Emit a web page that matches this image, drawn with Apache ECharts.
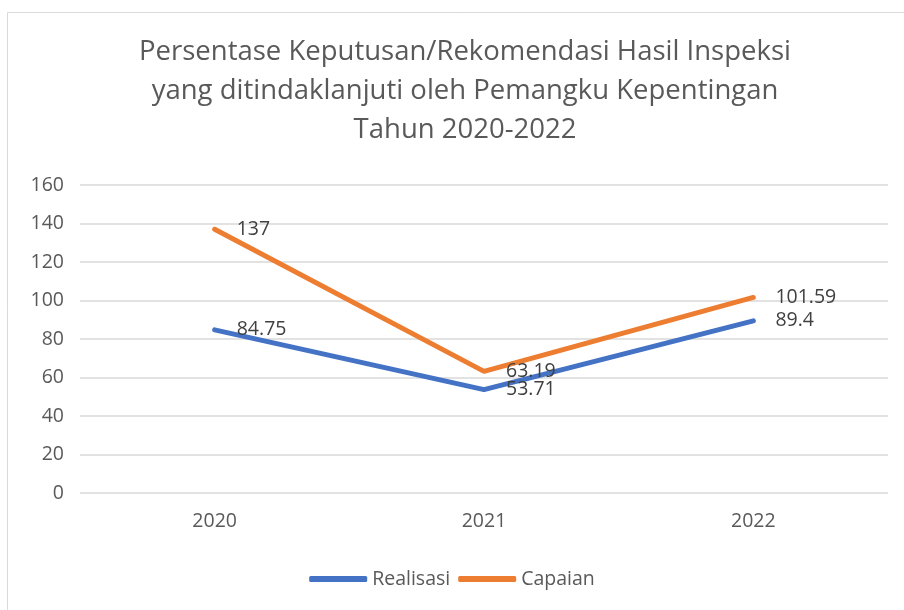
<!DOCTYPE html>
<html><head><meta charset="utf-8">
<script src="https://cdn.jsdelivr.net/npm/echarts@6/dist/echarts.min.js"></script>
<style>html,body{margin:0;padding:0;background:#fff}#c{width:904px;height:610px}</style>
</head><body><div id="c"></div>
<script>
const titleLines = ['Persentase Keputusan/Rekomendasi Hasil Inspeksi','yang ditindaklanjuti oleh Pemangku Kepentingan','Tahun 2020-2022'];
const categories = ['2020','2021','2022'];
const realisasi = [84.75, 53.71, 89.4];
const capaian = [137, 63.19, 101.59];
const yTicks = [0,20,40,60,80,100,120,140,160];
const FONT = '"Open Sans", sans-serif';
const chart = echarts.init(document.getElementById('c'));
const lbl = {show:true, position:'right', distance:22, color:'#404040', fontSize:19.5, fontFamily:FONT};
chart.setOption({
  animation:false,
  graphic:[{type:'rect', shape:{x:7.5,y:12.5,width:920,height:620}, style:{fill:'none',stroke:'#d9d9d9',lineWidth:1}}],
  title:{text:titleLines.join('\n'), left:460, textAlign:'center', top:28,
    textStyle:{fontFamily:FONT, fontSize:27.5, fontWeight:'normal', color:'#595959', lineHeight:39}},
  legend:{bottom:16, left:'center', itemWidth:58, itemHeight:6, itemGap:8, icon:'roundRect',
    textStyle:{fontFamily:FONT, fontSize:19.5, color:'#595959'}},
  grid:{left:80, right:16, top:185, bottom:117},
  xAxis:{type:'category', data:categories, boundaryGap:true,
    axisLine:{show:false}, axisTick:{show:false},
    axisLabel:{fontFamily:FONT, fontSize:19.5, color:'#595959', margin:18}},
  yAxis:{type:'value', min:yTicks[0], max:yTicks[yTicks.length-1], interval:20,
    axisLabel:{fontFamily:FONT, fontSize:19.5, color:'#595959', margin:16},
    splitLine:{lineStyle:{color:'#d9d9d9', width:1.5}}},
  series:[
    {name:'Realisasi', type:'line', data:realisasi, symbol:'circle', symbolSize:0.1, lineStyle:{color:'#4472C4', width:5, cap:'round'}, itemStyle:{color:'#4472C4'}, label:lbl},
    {name:'Capaian', type:'line', data:capaian, symbol:'circle', symbolSize:0.1, lineStyle:{color:'#ED7D31', width:5, cap:'round'}, itemStyle:{color:'#ED7D31'}, label:lbl}
  ]
});
</script></body></html>
